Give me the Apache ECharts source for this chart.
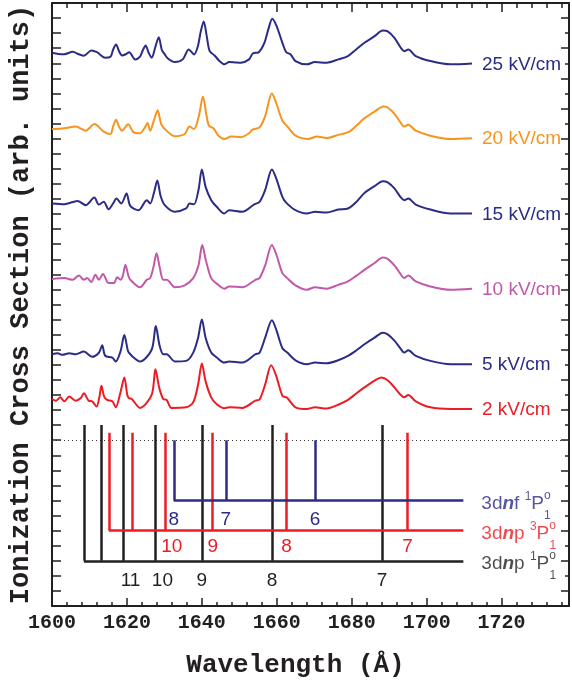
<!DOCTYPE html>
<html><head><meta charset="utf-8">
<script src="https://cdn.jsdelivr.net/npm/echarts@6/dist/echarts.min.js"></script>
<style>html,body{margin:0;padding:0;background:#fff}#c{width:572px;height:683px}</style>
</head><body><div id="c"></div>
<script>
// ---- spectra: [wavelength (Å), cross section (arb. units, offset)] ----
const curve25 = [[1600,36.70],[1601.7,36.62],[1603.3,36.60],[1605.5,36.76],[1607.2,36.60],[1608.5,36.50],[1610.5,36.85],[1612.0,36.74],[1612.7,36.60],[1614.2,36.37],[1615.6,36.43],[1616.3,36.90],[1617.1,37.24],[1617.9,36.80],[1618.7,36.52],[1619.7,36.60],[1620.6,36.74],[1622.2,36.26],[1623.5,36.45],[1624.3,36.90],[1625.0,37.18],[1625.8,36.70],[1626.6,36.37],[1627.6,37.10],[1628.5,37.73],[1629.3,36.90],[1630.1,36.59],[1631.0,36.30],[1632.8,36.08],[1634.9,36.26],[1636.5,36.92],[1637.9,36.59],[1638.9,37.10],[1639.7,38.10],[1640.5,38.78],[1641.3,37.80],[1642.1,36.80],[1643.4,36.52],[1644.7,36.15],[1646.0,35.93],[1647.3,36.08],[1648.9,36.06],[1650.4,36.04],[1652.6,36.26],[1653.6,36.65],[1655.2,36.74],[1656.6,37.30],[1657.8,38.30],[1658.8,38.96],[1659.9,38.50],[1661.5,37.36],[1662.5,36.74],[1663.7,36.59],[1665.0,36.15],[1668.0,35.93],[1670.2,36.08],[1673.3,36.04],[1676.4,36.26],[1679.0,36.48],[1681.2,36.92],[1683.4,37.36],[1686.1,37.80],[1688.3,38.17],[1689.6,38.12],[1691.4,37.69],[1693.1,37.03],[1694.0,36.80],[1695.1,36.92],[1697.1,36.48],[1701.0,36.15],[1706.4,35.93],[1712.1,35.99]];
const curve20 = [[1600,31.64],[1603.3,31.69],[1606.3,31.80],[1609.0,31.53],[1611.3,31.97],[1613.8,31.47],[1615.6,31.31],[1616.3,31.80],[1617.1,32.26],[1617.9,31.80],[1618.7,31.53],[1620.3,31.95],[1621.8,31.42],[1623.5,31.36],[1624.7,31.70],[1625.5,32.04],[1626.2,31.53],[1627.3,32.30],[1628.2,32.89],[1629.1,32.00],[1630.1,31.64],[1632.8,31.16],[1635.4,31.31],[1636.7,31.80],[1637.9,31.64],[1639.2,32.50],[1640.3,33.80],[1641.2,32.60],[1641.9,31.86],[1643.1,31.69],[1644.4,31.20],[1646.0,30.98],[1647.8,31.14],[1650.4,31.10],[1652.6,31.36],[1653.5,31.60],[1655.4,31.75],[1656.9,32.50],[1658.7,33.99],[1659.8,33.40],[1661.5,32.19],[1662.8,31.82],[1665.0,31.20],[1668.5,30.98],[1670.7,31.14],[1673.3,31.05],[1676.4,31.25],[1679.4,31.47],[1681.2,31.85],[1683.4,32.35],[1686.1,32.80],[1688.5,33.14],[1689.6,33.07],[1691.4,32.65],[1693.1,32.05],[1694.0,31.80],[1695.1,31.93],[1697.1,31.53],[1701.0,31.20],[1706.4,30.98],[1712.1,31.03]];
const curve15 = [[1600,26.70],[1603.3,26.65],[1606.8,26.87],[1609.0,26.59],[1611.3,27.09],[1612.5,26.63],[1613.8,26.81],[1615.1,26.32],[1616.3,26.70],[1617.2,27.03],[1618.5,26.70],[1619.9,27.36],[1620.9,26.54],[1623.1,26.26],[1625.3,26.92],[1626.2,26.70],[1627.3,27.50],[1628.1,28.23],[1629.0,27.20],[1630.1,26.59],[1632.8,26.15],[1635.8,26.37],[1636.7,26.70],[1637.9,26.65],[1639.1,27.60],[1640.0,28.96],[1641.0,27.80],[1642.5,26.92],[1643.9,26.50],[1646.0,26.04],[1647.3,26.26],[1650.8,26.15],[1653.9,26.63],[1655.4,26.81],[1656.9,27.60],[1658.7,28.96],[1659.8,28.40],[1661.5,27.14],[1662.5,26.76],[1665.0,26.26],[1668.0,26.04],[1670.2,26.15],[1673.3,26.10],[1676.4,26.30],[1679.0,26.37],[1681.2,26.80],[1683.4,27.40],[1686.1,27.85],[1688.3,28.17],[1689.6,28.10],[1691.4,27.70],[1693.1,27.10],[1694.0,26.92],[1695.1,27.03],[1697.1,26.63],[1701.0,26.30],[1706.4,26.04],[1712.1,26.04]];
const curve10 = [[1600,21.69],[1603.3,21.75],[1605.5,21.64],[1607.2,21.93],[1608.5,21.64],[1609.4,21.75],[1610.5,21.49],[1611.6,21.97],[1612.5,21.64],[1613.6,22.02],[1615.1,21.42],[1616.5,21.42],[1617.4,21.80],[1618.3,21.64],[1618.9,21.90],[1619.6,22.63],[1620.4,21.90],[1620.9,21.64],[1623.5,21.14],[1625.3,21.64],[1626.2,21.75],[1627.1,22.50],[1627.9,23.40],[1628.8,22.40],[1629.7,21.64],[1630.6,21.64],[1632.8,21.14],[1635.4,21.27],[1637.7,21.75],[1639.1,22.60],[1640.1,23.95],[1641.1,22.90],[1642.5,21.75],[1643.9,21.40],[1646.0,21.05],[1647.3,21.20],[1650.8,21.14],[1654.3,21.64],[1655.4,21.75],[1656.9,22.60],[1658.7,23.95],[1659.9,23.30],[1661.5,22.08],[1662.8,21.75],[1665.0,21.27],[1668.0,20.98],[1670.2,21.14],[1673.3,21.05],[1676.4,21.30],[1679.0,21.53],[1681.2,21.90],[1683.4,22.30],[1686.1,22.75],[1688.3,23.12],[1689.6,23.03],[1691.4,22.60],[1693.1,22.00],[1694.0,21.75],[1695.1,21.93],[1697.1,21.53],[1701.0,21.20],[1706.4,20.98],[1712.1,21.05]];
const curve5 = [[1600,16.70],[1601.5,16.77],[1602.8,16.66],[1604.6,16.77],[1606.3,16.70],[1608.5,16.88],[1610.7,16.53],[1612.5,16.80],[1613.4,17.29],[1614.2,16.60],[1616.1,16.48],[1617.0,16.22],[1618.3,16.90],[1619.3,17.97],[1620.3,16.90],[1620.9,16.70],[1621.8,16.48],[1623.5,16.22],[1626.6,17.00],[1627.7,18.57],[1628.7,17.30],[1629.7,16.70],[1630.6,16.70],[1632.8,16.22],[1635.8,16.26],[1637.7,16.81],[1639.0,17.80],[1640.0,19.00],[1641.0,17.80],[1642.5,16.81],[1643.9,16.50],[1646.0,16.15],[1647.3,16.22],[1650.8,16.15],[1654.3,16.70],[1655.4,16.80],[1656.9,17.80],[1658.7,18.96],[1659.9,18.30],[1661.5,17.10],[1662.8,16.81],[1665.0,16.30],[1668.0,16.04],[1670.2,16.15],[1673.3,16.10],[1676.4,16.30],[1679.0,16.59],[1681.2,16.95],[1683.4,17.36],[1686.1,17.80],[1688.3,18.13],[1689.6,18.02],[1691.4,17.60],[1693.1,17.05],[1694.0,16.81],[1695.1,16.96],[1697.1,16.59],[1701.0,16.26],[1706.4,16.04],[1712.1,16.04]];
const curve2 = [[1600,13.73],[1601.1,13.62],[1602.2,13.84],[1603.3,13.58],[1604.6,13.89],[1606.3,13.62],[1607.7,13.80],[1608.5,14.11],[1609.8,13.62],[1610.7,13.58],[1611.9,13.23],[1612.6,13.80],[1613.2,14.61],[1613.9,13.90],[1614.7,13.67],[1616.1,13.58],[1617.0,13.18],[1618.3,14.20],[1619.3,15.16],[1620.1,14.00],[1620.5,13.80],[1621.3,13.73],[1623.5,13.14],[1626.6,14.00],[1627.6,15.71],[1628.6,14.50],[1629.7,13.73],[1630.6,13.67],[1631.9,13.14],[1635.8,13.18],[1637.7,13.51],[1639.0,14.70],[1640.0,16.08],[1641.0,14.90],[1642.5,13.84],[1643.9,13.40],[1646.0,13.12],[1647.3,13.18],[1650.8,13.14],[1654.3,13.62],[1655.4,13.70],[1656.9,14.70],[1658.5,15.97],[1659.8,15.30],[1661.5,13.95],[1662.8,13.80],[1665.0,13.18],[1668.0,13.07],[1670.2,13.18],[1673.3,13.10],[1676.4,13.35],[1679.0,13.67],[1681.2,14.10],[1683.4,14.50],[1686.1,14.95],[1687.9,15.16],[1689.6,14.98],[1691.4,14.50],[1693.1,14.00],[1694.0,13.84],[1695.1,14.00],[1697.1,13.58],[1701.0,13.18],[1706.4,13.07],[1712.1,13.07]];
const fieldLabels = ['25 kV/cm','20 kV/cm','15 kV/cm','10 kV/cm','5 kV/cm','2 kV/cm'];

// ---- Rydberg series level positions (Å) and n labels ----
const npSingletWl = [1608.5,1613.1,1619.1,1627.6,1640.0,1658.7,1688.1];
const npSingletN  = ['','','11','10','9','8','7'];
const npTripletWl = [1615.2,1621.4,1630.1,1642.9,1662.6,1694.9];
const npTripletN  = ['','','10','9','8','7'];
const nfSingletWl = [1632.5,1646.4,1670.2];
const nfSingletN  = ['8','7','6'];
const seriesEnd = 1709.8;
const thresholdLevel = 11;

const xTickLabels = [1600,1620,1640,1660,1680,1700,1720];

const NAVY='#2a2c85', ORANGE='#f7941d', MAGENTA='#c259a8', RED='#ed1c24', BLACK='#231f20';
const curveColors=[NAVY,ORANGE,NAVY,MAGENTA,NAVY,RED];
const curves=[curve25,curve20,curve15,curve10,curve5,curve2];
const SANS='Liberation Sans', MONO='Liberation Mono';

const chart = echarts.init(document.getElementById('c'), null, {renderer:'canvas'});
const XMIN=1600, XMAX=1738;

function levelSeries(wls, names, base, top, labelY, color){
  const segs = wls.map(w=>({coords:[[w,base],[w,top]]}));
  segs.push({coords:[[wls[0],base],[seriesEnd,base]]});
  return [{
    type:'lines', coordinateSystem:'cartesian2d', polyline:false, silent:true,
    lineStyle:{color:color,width:2.5,opacity:1}, data:segs, z:3
  },{
    type:'scatter', symbolSize:0, silent:true, z:4,
    data: wls.map((w,i)=>({value:[w,labelY], name:names[i],
      label:{offset:[names[i].length>1?7:0,0]}})),
    label:{show:true, position:'inside', formatter:p=>p.name, color:color,
      textBorderWidth:0, textShadowBlur:0, opacity:1,
      fontFamily:SANS, fontSize:19}
  }];
}

function legendRich(color){
  return {
    m:{fontFamily:SANS,fontSize:19,color:color,lineHeight:36,verticalAlign:'middle'},
    bi:{fontFamily:SANS,fontSize:19,fontWeight:'bold',fontStyle:'italic',color:color,lineHeight:36,verticalAlign:'middle'},
    sup:{fontFamily:SANS,fontSize:12,color:color,verticalAlign:'top',padding:[5,0,0,0]},
    o:{fontFamily:SANS,fontSize:12,color:color,verticalAlign:'top',padding:[4,0,0,0],width:0.1},
    sub:{fontFamily:SANS,fontSize:12,color:color,verticalAlign:'bottom'}
  };
}

const series = [];
curves.forEach((c,i)=>{
  series.push({
    type:'line', data:c, smooth:0.3, showSymbol:false, silent:true,
    lineStyle:{color:curveColors[i],width:2}, z:2,
    endLabel:{show:true, formatter:fieldLabels[i], color:curveColors[i],
      fontFamily:SANS, fontSize:19, distance:10, offset:[0,1]}
  });
});
// ionization threshold (dotted)
series.push({type:'lines',coordinateSystem:'cartesian2d',silent:true,z:1,
  lineStyle:{color:'#333',width:1,type:[1,3],opacity:1},
  data:[{coords:[[XMIN,thresholdLevel],[XMAX,thresholdLevel]]}]});
series.push(...levelSeries(npSingletWl,npSingletN,3,12,1.7,BLACK));
series.push(...levelSeries(npTripletWl,npTripletN,5,11.5,3.9,RED));
series.push(...levelSeries(nfSingletWl,nfSingletN,7,11,5.7,NAVY));
// series names
series.push({type:'scatter',symbolSize:0,silent:true,z:5,
  data:[
    {value:[seriesEnd,7],label:{formatter:'{m|3d}{bi|n}{m|f }{sup|1}{m|P}{o|o}{sub|1}',rich:legendRich(NAVY)}},
    {value:[seriesEnd,5],label:{formatter:'{m|3d}{bi|n}{m|p }{sup|3}{m|P}{o|o}{sub|1}',rich:legendRich(RED)}},
    {value:[seriesEnd,3],label:{formatter:'{m|3d}{bi|n}{m|p }{sup|1}{m|P}{o|o}{sub|1}',rich:legendRich(BLACK)}}
  ],
  label:{show:true,position:'right',distance:18,offset:[0,3]}
});

const axLine={show:true,lineStyle:{color:BLACK,width:2}};
const option = {
  animation:false,
  backgroundColor:'#fff',
  grid:{left:51,right:-1,top:3,bottom:73,containLabel:false},
  xAxis:[
    {type:'value',position:'bottom',min:XMIN,max:XMAX,interval:20,
     axisLine:axLine,axisTick:{show:true,inside:true,length:8,lineStyle:{color:BLACK,width:1.5}},
     splitLine:{show:false},
     axisLabel:{margin:7,color:BLACK,fontFamily:MONO,fontWeight:'bold',fontSize:20,
       formatter:v=>xTickLabels.includes(v)?String(v):''},
     name:'Wavelength (Å)',nameLocation:'middle',nameGap:46,
     nameTextStyle:{fontFamily:MONO,fontWeight:'bold',fontSize:26,color:BLACK,padding:[0,30,0,0]}},
    {type:'value',position:'bottom',min:XMIN,max:XMAX,interval:4,
     axisLine:{show:false},axisTick:{show:true,inside:true,length:4,lineStyle:{color:BLACK,width:1.5}},
     axisLabel:{show:false},splitLine:{show:false}},
    {type:'value',position:'top',min:XMIN,max:XMAX,interval:20,
     axisLine:axLine,axisTick:{show:true,inside:true,length:9,lineStyle:{color:BLACK,width:1.5}},
     axisLabel:{show:false},splitLine:{show:false}},
    {type:'value',position:'top',min:XMIN,max:XMAX,interval:4,
     axisLine:{show:false},axisTick:{show:true,inside:true,length:5,lineStyle:{color:BLACK,width:1.5}},
     axisLabel:{show:false},splitLine:{show:false}}
  ],
  yAxis:[
    {type:'value',position:'left',min:0,max:40,interval:1,
     axisLine:axLine,axisTick:{show:true,inside:true,length:9,lineStyle:{color:BLACK,width:1.5}},
     axisLabel:{show:false},splitLine:{show:false},
     name:'Ionization Cross Section (arb. units)',nameLocation:'middle',nameGap:17,nameRotate:90,
     nameTextStyle:{fontFamily:MONO,fontWeight:'bold',fontSize:27,color:BLACK}},
    {type:'value',position:'right',min:0,max:40,interval:2,
     axisLine:axLine,axisTick:{show:true,inside:true,length:4,lineStyle:{color:BLACK,width:1.5}},
     minorTick:{show:true,splitNumber:2,length:8,lineStyle:{color:BLACK,width:1.5}},
     axisLabel:{show:false},splitLine:{show:false},minorSplitLine:{show:false}}
  ],
  series:series
};
chart.setOption(option);
</script></body></html>
